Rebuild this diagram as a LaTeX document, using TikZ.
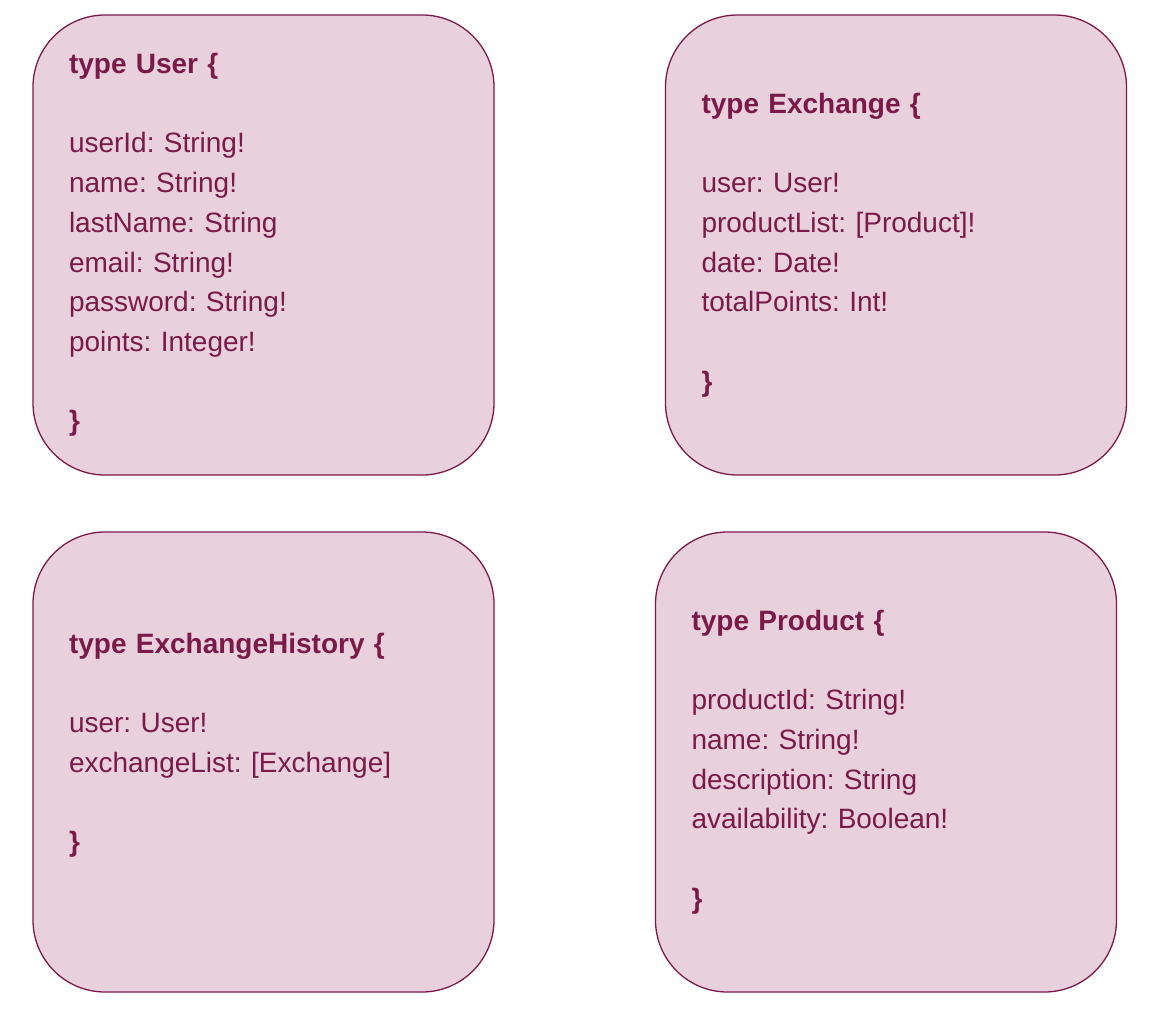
\documentclass[tikz,border=0pt]{standalone}
\usepackage{fontspec}
\setmainfont{Liberation Sans}
\definecolor{boxfill}{HTML}{E8D1DC}
\definecolor{boxtext}{HTML}{7A1A4A}
\tikzset{
  typebox/.style={draw=boxtext,fill=boxfill,line width=1.3pt,rounded corners=72pt,
    minimum width=461pt,minimum height=460pt,text width=389pt,inner xsep=36pt,
    align=left,text=boxtext,font=\fontsize{28}{39.7}\selectfont\frenchspacing}
}
\newcommand{\gap}{\\[39.7pt]}
\begin{document}
\begin{tikzpicture}[x=1pt,y=-1pt]
\useasboundingbox (0,0) rectangle (1156,1024);

\node[typebox] (user) at (263.5,245) {\textbf{type User \{}\gap
userId: String!\\
name: String!\\
lastName: String\\
email: String!\\
password: String!\\
points: Integer!\gap
\textbf{\}}};

\node[typebox] (exchange) at (896,245) {\textbf{type Exchange \{}\gap
user: User!\\
productList: [Product]!\\
date: Date!\\
totalPoints: Int!\gap
\textbf{\}}};

\node[typebox] (history) at (263.5,762) {\textbf{type ExchangeHistory \{}\gap
user: User!\\
exchangeList: [Exchange]\gap
\textbf{\}}\\~};

\node[typebox] (product) at (886,762) {\textbf{type Product \{}\gap
productId: String!\\
name: String!\\
description: String\\
availability: Boolean!\gap
\textbf{\}}};
\end{tikzpicture}
\end{document}
